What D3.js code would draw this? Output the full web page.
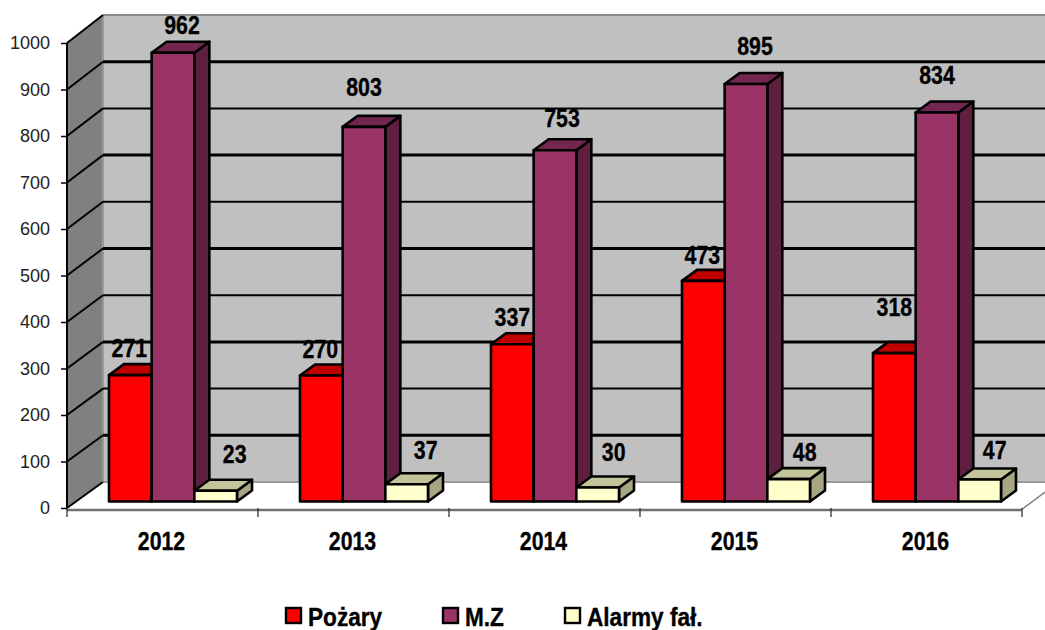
<!DOCTYPE html>
<html><head><meta charset="utf-8">
<script src="https://cdn.jsdelivr.net/npm/d3@7"></script>
<style>html,body{margin:0;padding:0;background:#fff;overflow:hidden}svg{display:block}
text{font-family:"Liberation Sans",Arial,sans-serif;font-weight:700;fill:#000;stroke:#000;stroke-width:.35px}
.tick-l{font-weight:400;stroke:none}</style>
</head><body><svg id="c" width="1045" height="630"></svg>
<script>
const years = ["2012","2013","2014","2015","2016"];
const seriesNames = ["Pożary","M.Z","Alarmy fał."];
const pozary = [271,270,337,473,318];
const mz = [962,803,753,895,834];
const alarmy = [23,37,30,48,47];
const yTicks = [0,100,200,300,400,500,600,700,800,900,1000];
const frontColors = ["#ff0000","#993366","#ffffcc"];
const topColors = ["#c00000","#732650","#c4c49a"];
const sideColors = ["#a00000","#5f2040","#a6a683"];
const labelLift = [[27,27,27,26,46],[28,40,32,38,37],[37,34,36,27,30]];
const labelShift = [[-1,-1,0,-1,0],[9,0,7,9,0],[19,19,16,16,15]];

const values = [pozary,mz,alarmy];
const svg = d3.select("#c");
const dx = 36, bdx = 15, bdy = -11, narrow = 0.82;
const xCat = d3.scaleBand().domain(years).range([67,1022]);
const xSer = d3.scaleBand().domain([0,1,2]).range([42,170]);
const yFront = d3.scaleLinear().domain([0,1000]).range([508,43]);
const yBack = d3.scaleLinear().domain([0,1000]).range([482,15]);
const yBar = d3.scaleLinear().domain([0,1000]).range([501.5,35]);
const pts = a => a.map(p=>p.join(",")).join(" ");
const label = (x,y,size,txt,anchor,sx) => svg.append("text")
  .attr("transform",`translate(${x},${y}) scale(${sx||narrow},1)`)
  .attr("text-anchor",anchor||"middle").style("font-size",size+"px").text(txt);

// walls
svg.append("polygon").attr("points",pts([[67+dx,yBack(1000)],[1045,yBack(1000)],[1045,yBack(0)],[67+dx,yBack(0)]]))
  .attr("fill","#c0c0c0");
svg.append("polygon").attr("points",pts([[67,yFront(0)],[67,yFront(1000)],[67+dx,yBack(1000)],[67+dx,yBack(0)]]))
  .attr("fill","#808080");
svg.append("line").attr("x1",67+dx).attr("x2",1045).attr("y1",yBack(1000)).attr("y2",yBack(1000)).attr("stroke","#8c8c8c").attr("stroke-width",2);
svg.append("line").attr("x1",67+dx).attr("x2",67+dx).attr("y1",yBack(1000)).attr("y2",yBack(0)).attr("stroke","#9a9a9a").attr("stroke-width",2);
svg.append("line").attr("x1",67+dx).attr("x2",1045).attr("y1",yBack(0)).attr("y2",yBack(0)).attr("stroke","#9a9a9a").attr("stroke-width",2);

// gridlines
yTicks.forEach(t=>{
  if(t>0 && t<1000){
    svg.append("line").attr("x1",67+dx).attr("x2",1045).attr("y1",yBack(t)).attr("y2",yBack(t)).attr("stroke","#000").attr("stroke-width",t%200==100?3:2);
  }
  svg.append("line").attr("x1",67).attr("y1",yFront(t)).attr("x2",67+dx).attr("y2",yBack(t)).attr("stroke","#000").attr("stroke-width",2);
});
svg.append("line").attr("x1",67).attr("x2",67).attr("y1",yFront(0)).attr("y2",yFront(1000)).attr("stroke","#000").attr("stroke-width",2);

// y axis
const gy = svg.append("g").attr("transform","translate(67,0)")
  .call(d3.axisLeft(yFront).tickValues(yTicks).tickSize(6).tickPadding(11).tickFormat(d3.format("d")));
gy.select(".domain").remove();
gy.selectAll("line").attr("stroke","#000").attr("stroke-width",1.5);
gy.selectAll("text").attr("class","tick-l").style("font-size","18px").style("fill","#222");

// x axis
svg.append("line").attr("x1",67).attr("x2",1021).attr("y1",510).attr("y2",510).attr("stroke","#707070").attr("stroke-width",2.5);
svg.append("line").attr("x1",1021).attr("y1",510).attr("x2",1045).attr("y2",492).attr("stroke","#808080").attr("stroke-width",1.5);
const tickXs = years.map(y=>xCat(y)).concat([xCat.range()[1]]);
tickXs.forEach(x=>svg.append("line").attr("x1",x).attr("x2",x).attr("y1",508).attr("y2",517).attr("stroke","#222").attr("stroke-width",1.2));
years.forEach(y=> label(xCat(y)+xCat.bandwidth()/2-1,550,26,y));

// bars
const stroke = {stroke:"#000","stroke-width":2.6,"stroke-linejoin":"round"};
years.forEach((y,i)=>{
  values.forEach((vals,s)=>{
    const x0 = xCat(y)+xSer(s), x1 = x0+xSer.bandwidth();
    const t = yBar(vals[i]), b = yBar(0);
    const g = svg.append("g");
    const add = (p,f)=>{const e=g.append("polygon").attr("points",pts(p)).attr("fill",f);Object.entries(stroke).forEach(([k,v])=>e.attr(k,v));};
    add([[x1,t],[x1+bdx,t+bdy],[x1+bdx,b+bdy],[x1,b]],sideColors[s]);
    add([[x0,t],[x0+bdx,t+bdy],[x1+bdx,t+bdy],[x1,t]],topColors[s]);
    add([[x0,t],[x1,t],[x1,b],[x0,b]],frontColors[s]);
  });
});
// value labels
years.forEach((y,i)=>{
  values.forEach((vals,s)=>{
    const xm = xCat(y)+xSer(s)+xSer.bandwidth()/2;
    label(xm+labelShift[s][i], yBar(vals[i])-labelLift[s][i]+9, 26, vals[i]);
  });
});

// legend
const legendX = d3.scaleOrdinal().domain(seriesNames).range([286,443,565]);
seriesNames.forEach((n,s)=>{
  const x = legendX(n);
  svg.append("rect").attr("x",x).attr("y",608).attr("width",15).attr("height",15).attr("fill",frontColors[s]).attr("stroke","#000").attr("stroke-width",2.4);
  label(x+22,626,26,n,"start",0.87);
});
</script></body></html>
